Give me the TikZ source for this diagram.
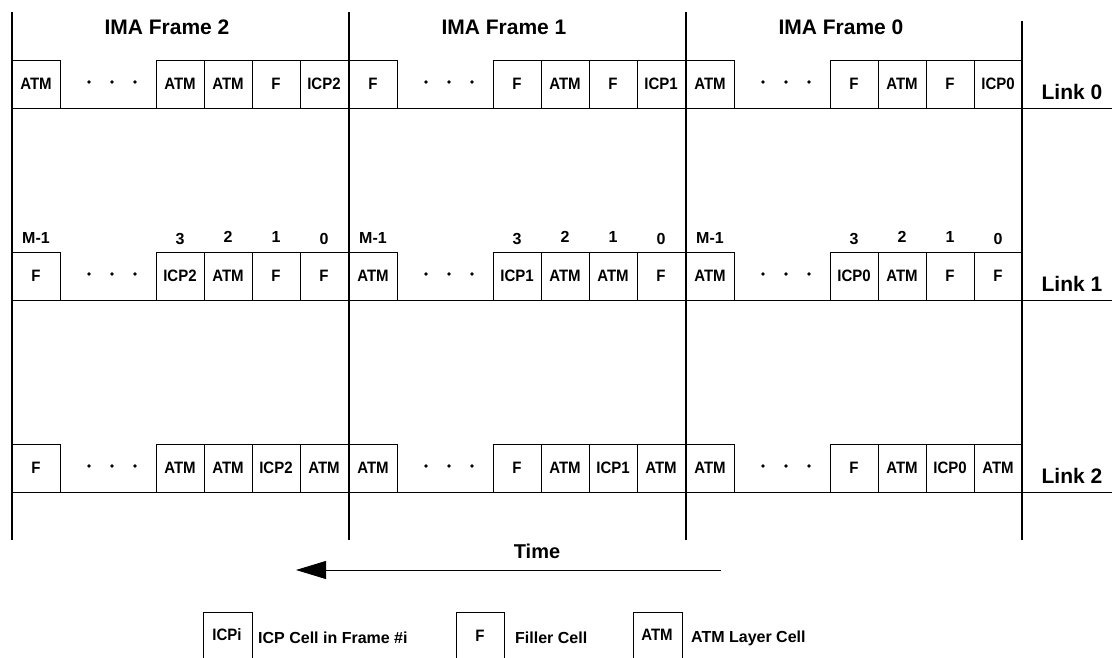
\documentclass[tikz,border=0pt]{standalone}
\usepackage{fontspec}
\setmainfont{Liberation Sans}
\usetikzlibrary{arrows.meta}
\newcommand{\stretchtxt}[1]{\scalebox{1}[1.1]{#1}}
\begin{document}
\begin{tikzpicture}[x=1pt,y=-1pt,
  cell/.style={draw,line width=0.9pt,minimum width=48pt,minimum height=48pt,inner sep=0pt,font=\fontsize{15}{15}\selectfont\bfseries},
  idx/.style={inner sep=0pt,font=\fontsize{16}{16}\selectfont\bfseries},
  big/.style={inner sep=0pt,font=\fontsize{21}{21}\selectfont\bfseries},
  legtxt/.style={inner sep=0pt,anchor=west,font=\fontsize{16}{16}\selectfont\bfseries},
  frameline/.style={line width=1.3pt},
  rowline/.style={line width=0.9pt},
  dotmark/.style={fill=black,draw=none}]
\useasboundingbox (0,0) rectangle (1112,658);

% frame boundaries
\draw[frameline] (12,12) -- (12,540);
\draw[frameline] (349,12) -- (349,540);
\draw[frameline] (686,12) -- (686,540);
\draw[frameline] (1022,21) -- (1022,540);

% headers
\node[big] (h2) at (167,27) {IMA Frame 2};
\node[big] (h1) at (504,27) {IMA Frame 1};
\node[big] (h0) at (841,27) {IMA Frame 0};

% row bottom lines
\draw[rowline] (12,108) -- (1112,108);
\draw[rowline] (12,300) -- (1112,300);
\draw[rowline] (12,492) -- (1112,492);

% cells
\foreach \fr/\x/\rw/\y/\ca/\cb/\cc/\cd/\ce in {
  2/12/0/84/ATM/ATM/ATM/F/ICP2,
  2/12/1/276/F/ICP2/ATM/F/F,
  2/12/2/468/F/ATM/ATM/ICP2/ATM,
  1/349/0/84/F/F/ATM/F/ICP1,
  1/349/1/276/ATM/ICP1/ATM/ATM/F,
  1/349/2/468/ATM/F/ATM/ICP1/ATM,
  0/686/0/84/ATM/F/ATM/F/ICP0,
  0/686/1/276/ATM/ICP0/ATM/F/F,
  0/686/2/468/ATM/F/ATM/ICP0/ATM}{
  \node[cell] (c\fr-\rw-a) at (\x+24,\y) {\stretchtxt{\ca}};
  \node[cell] (c\fr-\rw-b) at (\x+168,\y) {\stretchtxt{\cb}};
  \node[cell] (c\fr-\rw-c) at (\x+216,\y) {\stretchtxt{\cc}};
  \node[cell] (c\fr-\rw-d) at (\x+264,\y) {\stretchtxt{\cd}};
  \node[cell] (c\fr-\rw-e) at (\x+312,\y) {\stretchtxt{\ce}};
  \fill[dotmark] (\x+77,\y-2) circle (1.9);
  \fill[dotmark] (\x+100,\y-2) circle (1.9);
  \fill[dotmark] (\x+123,\y-2) circle (1.9);
}

% indices above link 1
\foreach \fr/\x in {2/12,1/349,0/686}{
  \node[idx] (m\fr) at (\x+24,238) {M-1};
  \node[idx] (n\fr-3) at (\x+168,239) {3};
  \node[idx] (n\fr-2) at (\x+216,237) {2};
  \node[idx] (n\fr-1) at (\x+264,237) {1};
  \node[idx] (n\fr-0) at (\x+312,239) {0};
}

% link labels
\node[big] (l0) at (1072,92) {Link 0};
\node[big] (l1) at (1072,284) {Link 1};
\node[big] (l2) at (1072,476) {Link 2};

% time arrow
\node[inner sep=0pt,font=\fontsize{20}{20}\selectfont\bfseries] (time) at (537,551) {Time};
\coordinate (tS) at (721,570);
\coordinate (tE) at (296,570);
\draw[line width=0.9pt,-{Triangle[length=30pt,width=18pt]}] (tS) -- (tE);

% legend
\draw[line width=0.9pt] (203,660) -- (203,612) -- (252,612) -- (252,660);
\draw[line width=0.9pt] (456,660) -- (456,612) -- (504,612) -- (504,660);
\draw[line width=0.9pt] (633,660) -- (633,612) -- (682,612) -- (682,660);
\node[inner sep=0pt,font=\fontsize{15}{15}\selectfont\bfseries] (kicp) at (227,635) {\stretchtxt{ICPi}};
\node[inner sep=0pt,font=\fontsize{15}{15}\selectfont\bfseries] (kf) at (480,636) {\stretchtxt{F}};
\node[inner sep=0pt,font=\fontsize{15}{15}\selectfont\bfseries] (katm) at (657,635) {\stretchtxt{ATM}};
\node[legtxt] (ticp) at (258,638) {ICP Cell in Frame \#i};
\node[legtxt] (tf) at (515,638) {Filler Cell};
\node[legtxt] (tatm) at (691,638) {ATM Layer Cell};
\end{tikzpicture}
\end{document}
